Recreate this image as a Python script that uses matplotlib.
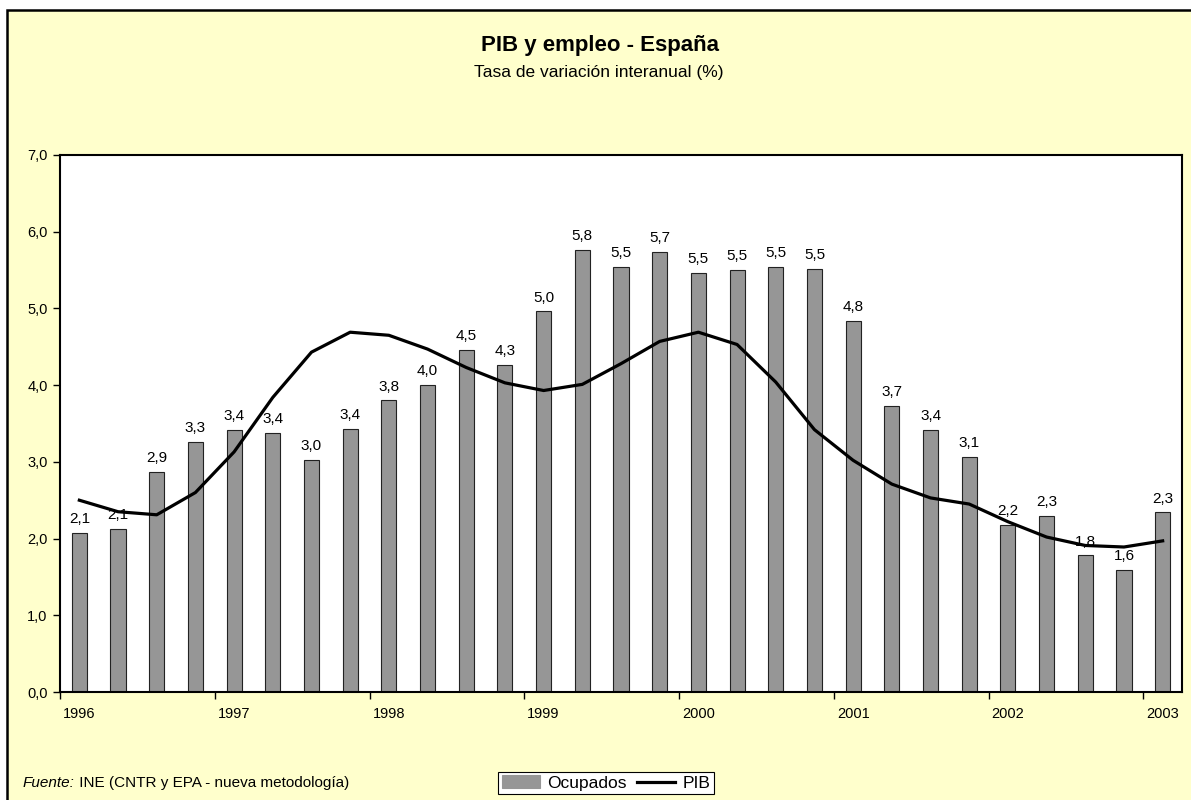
import matplotlib
matplotlib.use("Agg")
import matplotlib.pyplot as plt
from matplotlib.patches import Rectangle

plt.rcParams["font.family"] = ["Liberation Sans", "DejaVu Sans"]

# trimestres 1996 T1 .. 2003 T1
years = ["1996", "1997", "1998", "1999", "2000", "2001", "2002", "2003"]
ocupados = [2.07, 2.12, 2.87, 3.26, 3.41, 3.38, 3.03, 3.43, 3.80, 4.00,
            4.46, 4.26, 4.96, 5.76, 5.54, 5.74, 5.46, 5.50, 5.54, 5.52,
            4.84, 3.73, 3.41, 3.06, 2.18, 2.30, 1.78, 1.59, 2.34]
pib = [2.50, 2.35, 2.31, 2.60, 3.13, 3.84, 4.43, 4.69, 4.65, 4.47,
       4.23, 4.03, 3.93, 4.01, 4.28, 4.57, 4.69, 4.53, 4.04, 3.42,
       3.02, 2.71, 2.53, 2.45, 2.22, 2.02, 1.91, 1.89, 1.97]

BG = "#FFFFCC"
BAR = "#969696"

fig = plt.figure(figsize=(11.91, 8.0), dpi=100)
fig.patch.set_facecolor("white")

# fondo amarillo con borde negro
frame = Rectangle((7 / 1191, -0.1), 1.2, 1.1 - 10 / 800, transform=fig.transFigure,
                  facecolor=BG, edgecolor="black", linewidth=1.8, zorder=-5)
fig.add_artist(frame)

ax = fig.add_axes([60 / 1191, 1 - 692 / 800, 1122 / 1191, 537 / 800])
ax.set_facecolor("white")

x = list(range(len(ocupados)))
bars = ax.bar(x, ocupados, width=0.39, color=BAR, edgecolor="#222222",
              linewidth=0.8, label="Ocupados", zorder=2)
for xi, v in zip(x, ocupados):
    ax.annotate(f"{v:.1f}".replace(".", ","), (xi, v), xytext=(0, 5),
                textcoords="offset points", ha="center", va="bottom",
                fontsize=11, zorder=3)
line, = ax.plot(x, pib, color="black", linewidth=2.3, label="PIB", zorder=4)

ax.set_xlim(-0.5, len(ocupados) - 0.5)
ax.set_ylim(0, 7)
ax.set_yticks(range(0, 8))
ax.set_yticklabels([f"{v:.1f}".replace(".", ",") for v in range(0, 8)], fontsize=10.5)

ax.set_xticks([i - 0.5 for i in range(0, len(ocupados), 4)])
ax.set_xticklabels([])
ax.set_xticks(list(range(0, len(ocupados), 4)), minor=True)
ax.set_xticklabels(years, minor=True, fontsize=10.5)
ax.tick_params(axis="x", which="minor", length=0, pad=11)
ax.tick_params(axis="x", which="major", length=5, width=1, direction="out")
ax.tick_params(axis="y", length=5, width=1, direction="out", pad=4)

for s in ax.spines.values():
    s.set_linewidth(1.5)
    s.set_color("black")

fig.text(600 / 1191, 1 - 45 / 800, "PIB y empleo - España", ha="center",
         va="center", fontsize=16, fontweight="bold")
fig.text(599 / 1191, 1 - 72 / 800, "Tasa de variación interanual (%)",
         ha="center", va="center", fontsize=12.5)

t1 = fig.text(23 / 1191, 1 - 783 / 800, "Fuente:", ha="left", va="center",
              fontsize=11, fontstyle="italic")
ax.annotate(" INE (CNTR y EPA - nueva metodología)", xy=(1, 0.5),
            xycoords=t1, ha="left", va="center", fontsize=11,
            annotation_clip=False)

leg = fig.legend([bars, line], ["Ocupados", "PIB"], loc="center",
                 bbox_to_anchor=(606 / 1191, 1 - 783 / 800),
                 ncol=2, fontsize=12.5, frameon=True, fancybox=False,
                 edgecolor="black", facecolor="white", framealpha=1,
                 handlelength=2.2, handleheight=0.8, columnspacing=0.6,
                 handletextpad=0.4, borderpad=0.2)
leg.get_frame().set_linewidth(0.8)
for h in leg.legend_handles:
    if hasattr(h, "set_edgecolor"):
        h.set_edgecolor(BAR)

fig.savefig("out.png", dpi=100, facecolor=fig.get_facecolor())
